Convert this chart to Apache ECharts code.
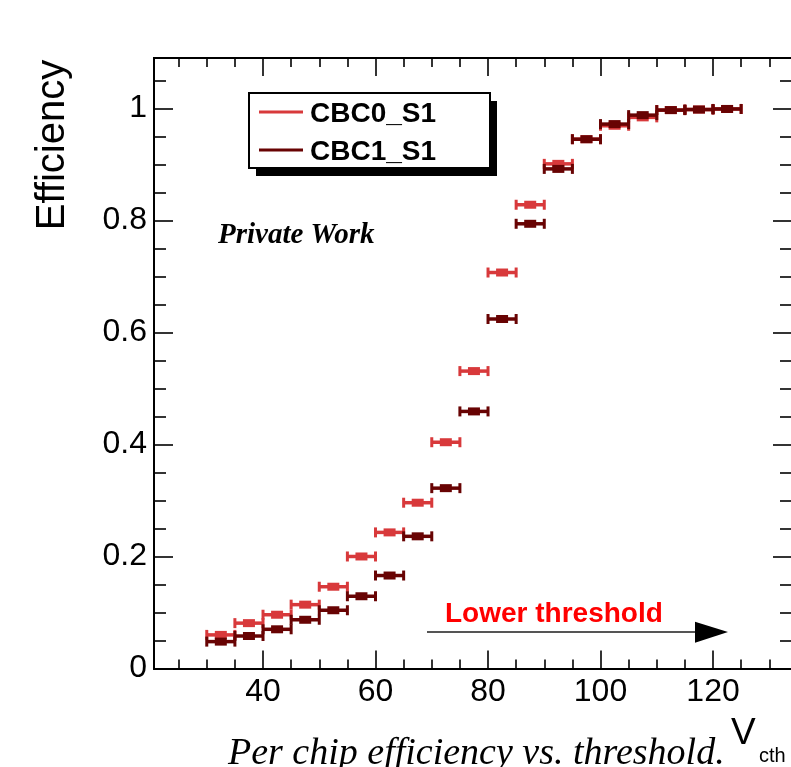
<!DOCTYPE html>
<html>
<head>
<meta charset="utf-8">
<script src="https://cdn.jsdelivr.net/npm/echarts@6/dist/echarts.min.js"></script>
<style>
  html, body { margin: 0; padding: 0; background: #fff; }
  #chart { width: 791px; height: 767px; }
</style>
</head>
<body>
<div id="chart"></div>
<script>
// bins are 5 units wide in Vcth
const binCenters = [32.5, 37.5, 42.5, 47.5, 52.5, 57.5, 62.5, 67.5, 72.5, 77.5,
  82.5, 87.5, 92.5, 97.5, 102.5, 107.5, 112.5, 117.5, 122.5];
const cbc0Eff = [0.060, 0.081, 0.096, 0.114, 0.146, 0.200, 0.243, 0.296, 0.404, 0.531,
  0.707, 0.828, 0.901, 0.945, 0.969, 0.984, 0.997, 0.998, 0.999];
const cbc1Eff = [0.048, 0.058, 0.070, 0.087, 0.104, 0.129, 0.166, 0.236, 0.322, 0.459,
  0.624, 0.794, 0.892, 0.945, 0.972, 0.988, 0.997, 0.998, 0.999];
const xMajorTicks = [40, 60, 80, 100, 120];
const xMinorTicks = [25, 30, 35, 45, 50, 55, 65, 70, 75, 85, 90, 95, 105, 110, 115, 125, 130];
const yMajorTicks = [0, 0.2, 0.4, 0.6, 0.8, 1];
const yMinorTicks = [0.05, 0.1, 0.15, 0.25, 0.3, 0.35, 0.45, 0.5, 0.55, 0.65, 0.7, 0.75, 0.85, 0.9, 0.95, 1.05];

const binHalf = 2.5;
const light = "#d8393b";
const dark = "#680303";
const sans = "Liberation Sans";

function errorBar(params, api) {
  const x = api.value(0);
  const y = api.value(1);
  const l = api.coord([x - binHalf, y]);
  const r = api.coord([x + binHalf, y]);
  const m = api.coord([x, y]);
  const color = api.visual("color");
  return {
    type: "group",
    children: [
      { type: "line", shape: { x1: l[0], y1: l[1], x2: r[0], y2: r[1] }, style: { stroke: color, lineWidth: 3.5 } },
      { type: "rect", shape: { x: l[0] - 1.5, y: l[1] - 5, width: 3, height: 10 }, style: { fill: color } },
      { type: "rect", shape: { x: r[0] - 1.5, y: r[1] - 5, width: 3, height: 10 }, style: { fill: color } },
      { type: "rect", shape: { x: m[0] - 6, y: m[1] - 4, width: 12, height: 8 }, style: { fill: color } },
    ],
  };
}

// the frame's right side lies just past the picture's edge
function xAx(pos, ticks, len, labels) {
  return {
    type: "value", position: pos, min: 20.62, max: 134.04,
    axisLine: { show: true, onZero: false, lineStyle: { color: "#000", width: 2 } },
    axisTick: { show: true, inside: true, length: len, customValues: ticks, lineStyle: { color: "#000", width: 1.6 } },
    axisLabel: { show: labels, customValues: ticks, fontSize: 32, color: "#000", fontFamily: sans, margin: 8 },
    splitLine: { show: false },
  };
}
function yAx(pos, ticks, len, labels) {
  return {
    type: "value", position: pos, min: 0, max: 1.09,
    axisLine: { show: pos === "left", onZero: false, lineStyle: { color: "#000", width: 2 } },
    axisTick: { show: true, inside: true, length: len, customValues: ticks, lineStyle: { color: "#000", width: 1.6 } },
    axisLabel: { show: labels, customValues: ticks, fontSize: 32, color: "#000", fontFamily: sans, margin: 7 },
    splitLine: { show: false },
  };
}

const chart = echarts.init(document.getElementById("chart"));
chart.setOption({
  animation: false,
  backgroundColor: "#fff",
  grid: { left: 154, top: 58, width: 638, height: 610.5, outerBoundsMode: "none" },
  xAxis: [
    xAx("bottom", xMajorTicks, 18, true),
    xAx("bottom", xMinorTicks, 9, false),
    xAx("top", xMajorTicks, 18, false),
    xAx("top", xMinorTicks, 9, false),
  ],
  yAxis: [
    yAx("left", yMajorTicks, 19, true),
    yAx("left", yMinorTicks, 12, false),
    yAx("right", yMajorTicks, 19, false),
    yAx("right", yMinorTicks, 12, false),
  ],
  series: [
    {
      name: "CBC0_S1", type: "custom", renderItem: errorBar, itemStyle: { color: light },
      data: binCenters.map((c, i) => [c, cbc0Eff[i]]),
    },
    {
      name: "CBC1_S1", type: "custom", renderItem: errorBar, itemStyle: { color: dark },
      data: binCenters.map((c, i) => [c, cbc1Eff[i]]),
    },
  ],
  graphic: [
    // legend box with shadow
    { type: "rect", shape: { x: 256, y: 101, width: 241, height: 75 }, style: { fill: "#000" }, z: 10 },
    { type: "rect", shape: { x: 249, y: 93, width: 241, height: 75 }, style: { fill: "#fff", stroke: "#000", lineWidth: 2 }, z: 11 },
    { type: "line", shape: { x1: 259, y1: 112, x2: 303, y2: 112 }, style: { stroke: light, lineWidth: 3 }, z: 12 },
    { type: "line", shape: { x1: 259, y1: 150, x2: 303, y2: 150 }, style: { stroke: dark, lineWidth: 3 }, z: 12 },
    { type: "text", x: 310, y: 114, z: 12, style: { text: "CBC0_S1", font: "bold 28px 'Liberation Sans'", fill: "#000", verticalAlign: "middle" } },
    { type: "text", x: 310, y: 152, z: 12, style: { text: "CBC1_S1", font: "bold 28px 'Liberation Sans'", fill: "#000", verticalAlign: "middle" } },
    // labels
    { type: "text", x: 218, y: 236, style: { text: "Private Work", font: "italic bold 29px 'Liberation Serif'", fill: "#000", verticalAlign: "middle" } },
    { type: "text", x: 53, y: 145, rotation: Math.PI / 2, style: { text: "Efficiency", font: "40px 'Liberation Sans'", fill: "#000", align: "center", verticalAlign: "middle" } },
    { type: "text", x: 445, y: 614, style: { text: "Lower threshold", font: "bold 28px 'Liberation Sans'", fill: "#ff0000", verticalAlign: "middle" } },
    { type: "line", shape: { x1: 427, y1: 632, x2: 700, y2: 632 }, style: { stroke: "#555", lineWidth: 2 } },
    { type: "polygon", shape: { points: [[695, 621.7], [728, 632], [695, 642.7]] }, style: { fill: "#000" } },
    { type: "text", x: 731, y: 734, style: { text: "V", font: "37px 'Liberation Sans'", fill: "#000", verticalAlign: "middle" } },
    { type: "text", x: 759, y: 756, style: { text: "cth", font: "20px 'Liberation Sans'", fill: "#000", verticalAlign: "middle" } },
    { type: "text", x: 228, y: 754, style: { text: "Per chip efficiency vs. threshold.", font: "italic 38px 'Liberation Serif'", fill: "#000", verticalAlign: "middle" } },
  ],
});
</script>
</body>
</html>
